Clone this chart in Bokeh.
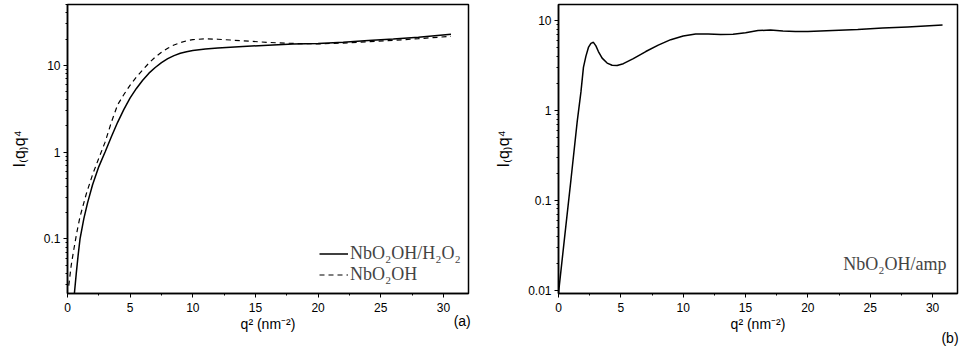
from bokeh.plotting import figure
from bokeh.layouts import row
from bokeh.models import (Range1d, FixedTicker, CustomJSTickFormatter, Label, Legend, LegendItem,
                          LinearAxis)
from bokeh.embed import file_html
from bokeh.resources import INLINE

# ---- data ----
q2_h2o2 = [0.55, 0.7, 0.85, 1.0, 1.3, 1.6, 2.0, 2.5, 3.0, 3.5, 4.0, 4.5, 5.0, 5.5, 6.0, 6.5, 7.0,
           7.5, 8.0, 8.5, 9.0, 9.5, 10.0, 11.0, 12.0, 13.0, 14.0, 16.0, 18.0, 20.0, 22.0, 24.0,
           26.0, 28.0, 30.6]
i_h2o2 = [0.0235, 0.04, 0.065, 0.1, 0.17, 0.26, 0.42, 0.68, 1.0, 1.5, 2.2, 3.1, 4.2, 5.4, 6.7, 8.1,
          9.4, 10.7, 11.9, 12.9, 13.7, 14.3, 14.8, 15.4, 15.8, 16.1, 16.4, 17.0, 17.5, 17.8, 18.4,
          19.2, 20.0, 21.0, 22.7]

q2_nbo = [0.1, 0.3, 0.5, 0.75, 1.0, 1.5, 2.0, 2.5, 3.0, 3.5, 4.0, 4.5, 5.0, 5.5, 6.0, 6.5, 7.0,
          7.5, 8.0, 8.5, 9.0, 9.5, 10.0, 11.0, 12.0, 13.0, 14.0, 16.0, 18.0, 20.0, 22.0, 24.0,
          26.0, 28.0, 30.6]
i_nbo = [0.029, 0.05, 0.075, 0.12, 0.18, 0.33, 0.55, 0.85, 1.3, 2.2, 3.5, 4.6, 5.9, 7.3, 8.8, 10.6,
         12.4, 14.1, 15.7, 17.1, 18.2, 19.1, 19.7, 20.1, 19.9, 19.5, 19.1, 18.3, 17.8, 17.6, 18.0,
         18.6, 19.3, 20.2, 21.5]

q2_amp = [0.0, 0.5, 1.0, 1.5, 1.8, 2.0, 2.2, 2.4, 2.6, 2.8, 3.0, 3.2, 3.5, 3.9, 4.3, 4.7, 5.2, 6.0,
          7.0, 8.0, 9.0, 10.0, 11.0, 12.0, 13.0, 14.0, 15.0, 16.0, 17.0, 18.0, 19.0, 20.0, 22.0,
          24.0, 26.0, 28.0, 30.8]
i_amp = [0.0093, 0.04, 0.17, 0.75, 1.6, 3.0, 4.0, 5.0, 5.55, 5.7, 5.2, 4.5, 3.8, 3.35, 3.17, 3.15,
         3.3, 3.75, 4.5, 5.3, 6.1, 6.7, 7.05, 7.05, 6.95, 7.0, 7.3, 7.7, 7.8, 7.6, 7.5, 7.5, 7.7,
         7.9, 8.2, 8.45, 8.85]

x_ticks = [0, 5, 10, 15, 20, 25, 30]
x_minor = [2.5, 7.5, 12.5, 17.5, 22.5, 27.5]
y_ticks_a = [0.1, 1, 10]
y_ticks_b = [0.01, 0.1, 1, 10]
mantissas = [2, 3, 4, 5, 6, 7, 8, 9]
y_minor_a = [m * d for d in [0.01, 0.1, 1, 10] for m in mantissas if 0.0235 <= m * d <= 50]
y_minor_b = [m * d for d in [0.001, 0.01, 0.1, 1, 10] for m in mantissas if 0.0092 <= m * d <= 15]

legend_labels = ["NbO\u2082OH/H\u2082O\u2082", "NbO\u2082OH"]
x_label = "q\u00b2 (nm\u207b\u00b2)"
y_label = "I\u208dq\u208eq\u2074"
panel_tags = ["(a)", "(b)"]
tag_pos = [31.5, 31.4]   # x position (q^2 units) of the panel tags

SANS = "Liberation Sans"
SERIF = "Liberation Serif"

fmt = CustomJSTickFormatter(code="return String(tick);")


def style(p, yt, ym):
    p.outline_line_color = "black"
    p.outline_line_width = 1.5
    p.outline_line_alpha = 1.0
    p.xgrid.visible = False
    p.ygrid.visible = False
    p.background_fill_color = "white"
    p.border_fill_color = "white"
    p.xaxis.ticker = FixedTicker(ticks=x_ticks, minor_ticks=x_minor)
    p.yaxis.ticker = FixedTicker(ticks=yt, minor_ticks=ym)
    p.yaxis.formatter = fmt
    for ax in (p.xaxis[0], p.yaxis[0]):
        ax.axis_line_width = 1.5
        ax.axis_line_color = "black"
        ax.major_tick_line_color = "black"
        ax.minor_tick_line_color = "black"
        ax.major_tick_out = 4
        ax.major_tick_in = 0
        ax.minor_tick_out = 2
        ax.minor_tick_in = 0
        ax.major_label_text_font = SANS
        ax.major_label_text_font_size = "12px"
        ax.major_label_text_color = "black"
        ax.axis_label_text_font = SANS
        ax.axis_label_text_font_style = "normal"
        ax.axis_label_text_color = "black"
    p.xaxis.axis_label = x_label
    p.xaxis.axis_label_text_font_size = "14px"
    p.yaxis.axis_label = y_label
    p.yaxis.axis_label_text_font_size = "16px"
    p.xaxis.major_label_standoff = 5
    p.xaxis.axis_label_standoff = 1
    p.yaxis.major_label_standoff = 3
    p.yaxis.axis_label_standoff = 13


def tag_axis(p, text, pos, standoff):
    ax = LinearAxis(ticker=FixedTicker(ticks=[pos], minor_ticks=[]),
                    formatter=CustomJSTickFormatter(code="return '%s';" % text),
                    axis_line_color=None, major_tick_line_color=None,
                    minor_tick_line_color=None, major_tick_out=0, major_tick_in=0,
                    major_label_standoff=standoff, major_label_text_font=SANS,
                    major_label_text_font_size="14px", major_label_text_color="black")
    p.add_layout(ax, "below")


# ---- panel (a) ----
p1 = figure(width=480, height=348, y_axis_type="log", output_backend="svg",
            toolbar_location=None, x_range=Range1d(0, 32), y_range=Range1d(0.0235, 50),
            min_border_left=67, min_border_right=12, min_border_top=3, min_border_bottom=52)
style(p1, y_ticks_a, y_minor_a)
r1 = p1.line(q2_h2o2, i_h2o2, line_color="black", line_width=1.5)
r2 = p1.line(q2_nbo, i_nbo, line_color="black", line_width=1.2, line_dash="5 4")
leg = Legend(items=[LegendItem(label=legend_labels[0], renderers=[r1]),
                    LegendItem(label=legend_labels[1], renderers=[r2])],
             location=(252, 8), padding=0, spacing=-8, margin=0,
             label_height=19, glyph_height=19, glyph_width=29, label_standoff=2,
             label_text_font=SERIF, label_text_font_size="18px",
             background_fill_alpha=0, border_line_alpha=0)
p1.add_layout(leg)
tag_axis(p1, panel_tags[0], tag_pos[0], -22)

# ---- panel (b) ----
p2 = figure(width=483, height=348, y_axis_type="log", output_backend="svg",
            toolbar_location=None, x_range=Range1d(0, 32), y_range=Range1d(0.0092, 15),
            min_border_left=78, min_border_right=6, min_border_top=4, min_border_bottom=52)
style(p2, y_ticks_b, y_minor_b)
p2.line(q2_amp, i_amp, line_color="black", line_width=1.5)
p2.add_layout(Label(x=388, y=30, x_units="screen", y_units="screen", text="NbO\u2082OH/amp",
                    text_align="right", text_baseline="middle", text_font=SERIF,
                    text_font_size="18px"))
tag_axis(p2, panel_tags[1], tag_pos[1], -5)

layout = row(p1, p2)
open("out.html", "w").write(file_html(layout, INLINE))
